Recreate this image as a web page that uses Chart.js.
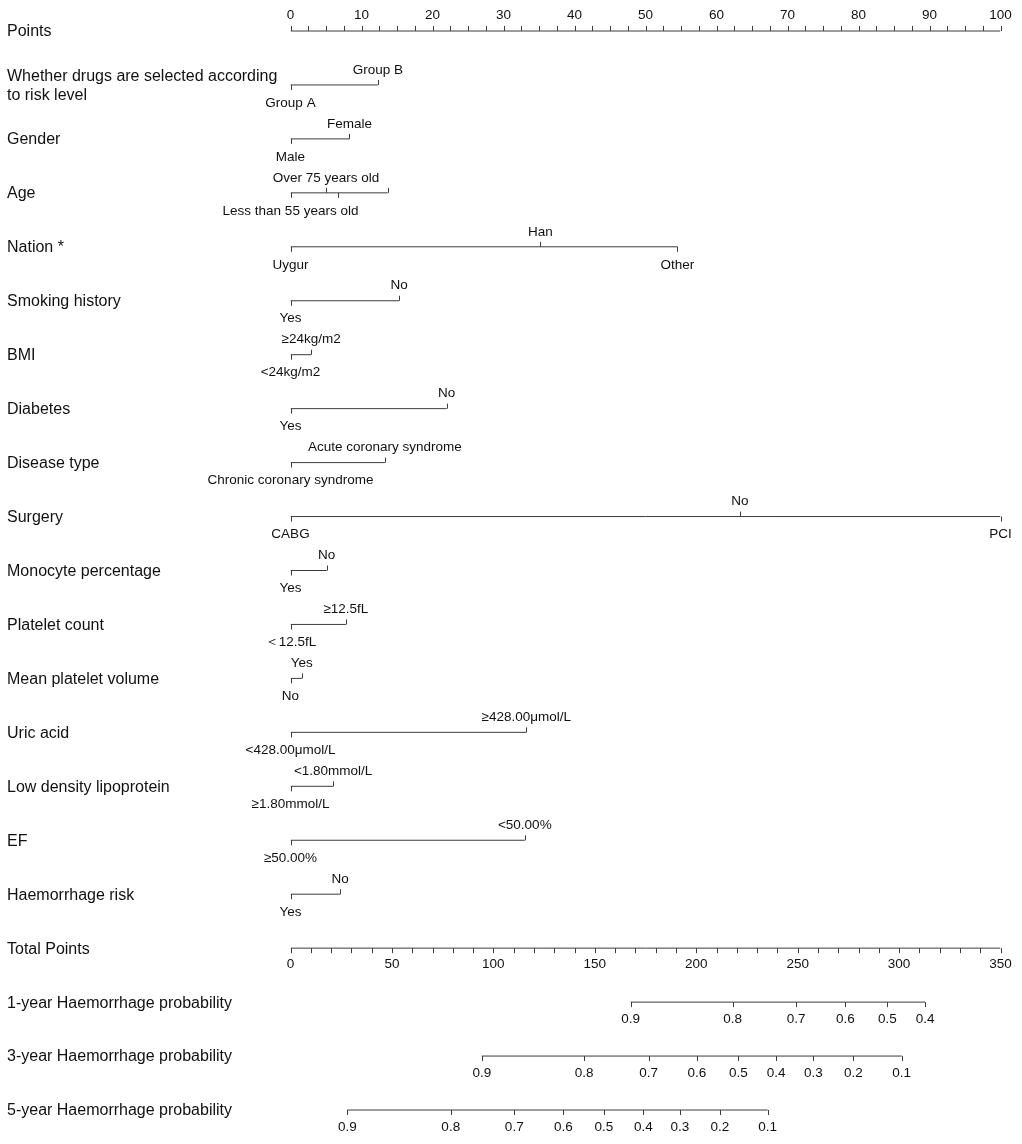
<!DOCTYPE html>
<html>
<head>
    <meta charset="utf-8">
    <script src="https://cdn.jsdelivr.net/npm/chart.js"></script>
    <style>
        body { margin: 0; background: #fff; }
        canvas { display: block; }
    </style>
</head>
<body>
    <canvas id="myChart" width="1022" height="1144"></canvas>
    <script>
        // 행 이름 (위에서 아래 순서)
        const rowNames = [
            'Points',
            'Whether drugs are selected according\nto risk level',
            'Gender', 'Age', 'Nation *', 'Smoking history', 'BMI', 'Diabetes',
            'Disease type', 'Surgery', 'Monocyte percentage', 'Platelet count',
            'Mean platelet volume', 'Uric acid', 'Low density lipoprotein', 'EF',
            'Haemorrhage risk', 'Total Points',
            '1-year Haemorrhage probability',
            '3-year Haemorrhage probability',
            '5-year Haemorrhage probability'
        ];

        // 변수별 수준과 점수
        const drugLevels = ['Group A', 'Group B'];
        const drugPts = [0, 12.3];
        const genderLevels = ['Male', 'Female'];
        const genderPts = [0, 8.3];
        const ageLevels = ['Less than 55 years old', 'Over 75 years old', '', ''];
        const agePts = [0, 5.0, 6.7, 13.7];
        const nationLevels = ['Uygur', 'Han', 'Other'];
        const nationPts = [0, 35.2, 54.5];
        const smokeLevels = ['Yes', 'No'];
        const smokePts = [0, 15.3];
        const bmiLevels = ['<24kg/m2', '≥24kg/m2'];
        const bmiPts = [0, 2.9];
        const diabLevels = ['Yes', 'No'];
        const diabPts = [0, 22.0];
        const diseaseLevels = ['Chronic coronary syndrome', 'Acute coronary syndrome'];
        const diseasePts = [0, 13.3];
        const surgeryLevels = ['CABG', 'No', 'PCI'];
        const surgeryPts = [0, 63.3, 100];
        const monoLevels = ['Yes', 'No'];
        const monoPts = [0, 5.1];
        const pltLevels = ['＜12.5fL', '≥12.5fL'];
        const pltPts = [0, 7.8];
        const mpvLevels = ['No', 'Yes'];
        const mpvPts = [0, 1.6];
        const uaLevels = ['<428.00μmol/L', '≥428.00μmol/L'];
        const uaPts = [0, 33.2];
        const ldlLevels = ['≥1.80mmol/L', '<1.80mmol/L'];
        const ldlPts = [0, 6.0];
        const efLevels = ['≥50.00%', '<50.00%'];
        const efPts = [0, 33.0];
        const haemLevels = ['Yes', 'No'];
        const haemPts = [0, 7.0];

        // 축 눈금
        const pointsMax = 100;
        const pointsMinorStep = 2.5;
        const pointsLabelStep = 10;
        const totalMax = 350;
        const totalMinorStep = 10;
        const totalLabelStep = 50;

        // 확률 축 (총점 기준 위치)
        const prob1Labels = ['0.9', '0.8', '0.7', '0.6', '0.5', '0.4'];
        const prob1Pts = [167.7, 218.0, 249.2, 273.5, 294.2, 312.8];
        const prob3Labels = ['0.9', '0.8', '0.7', '0.6', '0.5', '0.4', '0.3', '0.2', '0.1'];
        const prob3Pts = [94.3, 144.8, 176.6, 200.3, 220.8, 239.4, 257.7, 277.5, 301.3];
        const prob5Labels = ['0.9', '0.8', '0.7', '0.6', '0.5', '0.4', '0.3', '0.2', '0.1'];
        const prob5Pts = [28.0, 79.0, 110.3, 134.5, 154.5, 173.9, 192.0, 211.7, 235.2];

        const variables = [
            [drugLevels, drugPts], [genderLevels, genderPts], [ageLevels, agePts],
            [nationLevels, nationPts], [smokeLevels, smokePts], [bmiLevels, bmiPts],
            [diabLevels, diabPts], [diseaseLevels, diseasePts], [surgeryLevels, surgeryPts],
            [monoLevels, monoPts], [pltLevels, pltPts], [mpvLevels, mpvPts],
            [uaLevels, uaPts], [ldlLevels, ldlPts], [efLevels, efPts], [haemLevels, haemPts]
        ];
        const probAxes = [[prob1Labels, prob1Pts], [prob3Labels, prob3Pts], [prob5Labels, prob5Pts]];

        const lineColor = '#3c3c3c';
        const textColor = '#111';
        const FONT = '"Liberation Sans", Arial, sans-serif';

        // 선 데이터셋 만들기
        const datasets = [];
        const seg = (x0, x1, row, axis) => ({
            data: [{ x: x0, y: row }, { x: x1, y: row }],
            xAxisID: axis, showLine: true, pointRadius: 0,
            borderColor: lineColor, borderWidth: 1
        });
        datasets.push(seg(0, pointsMax, 0, 'x'));
        variables.forEach(([lv, pts], i) => {
            datasets.push(seg(Math.min(...pts), Math.max(...pts), i + 1, 'x'));
        });
        datasets.push(seg(0, totalMax, 17, 'xt'));
        probAxes.forEach(([lb, pts], i) => {
            datasets.push(seg(Math.min(...pts), Math.max(...pts), 18 + i, 'xt'));
        });

        // 눈금, 글자 그리기
        const nomoPlugin = {
            id: 'nomo',
            afterDatasetsDraw(chart) {
                const ctx = chart.ctx;
                const sx = chart.scales.x, st = chart.scales.xt, sy = chart.scales.y;
                ctx.save();
                ctx.strokeStyle = lineColor;
                ctx.lineWidth = 1;
                ctx.fillStyle = textColor;

                const tick = (px, py, len) => {
                    ctx.beginPath();
                    ctx.moveTo(Math.round(px) + 0.5, py);
                    ctx.lineTo(Math.round(px) + 0.5, py + len);
                    ctx.stroke();
                };

                // 왼쪽 행 이름
                ctx.font = '16px ' + FONT;
                ctx.textAlign = 'left';
                ctx.textBaseline = 'middle';
                rowNames.forEach((name, i) => {
                    const py = sy.getPixelForValue(i);
                    const lines = name.split('\n');
                    if (lines.length === 1) {
                        ctx.fillText(name, 7, py + 1);
                    } else {
                        ctx.fillText(lines[0], 7, py - 8.5);
                        ctx.fillText(lines[1], 7, py + 11);
                    }
                });

                ctx.font = '13.5px ' + FONT;
                ctx.textAlign = 'center';

                // Points 축
                let py = sy.getPixelForValue(0);
                for (let v = 0; v <= pointsMax + 1e-6; v += pointsMinorStep) {
                    tick(sx.getPixelForValue(v), py, -5);
                }
                for (let v = 0; v <= pointsMax; v += pointsLabelStep) {
                    ctx.fillText(String(v), sx.getPixelForValue(v), py - 16);
                }

                // 변수 행
                variables.forEach(([lv, pts], i) => {
                    const ry = sy.getPixelForValue(i + 1);
                    pts.forEach((p, j) => {
                        const px = sx.getPixelForValue(p);
                        const below = j % 2 === 0;
                        tick(px, ry, below ? 5 : -5);
                        if (lv[j]) ctx.fillText(lv[j], px, below ? ry + 18 : ry - 15);
                    });
                });

                // Total Points 축
                py = sy.getPixelForValue(17);
                for (let v = 0; v <= totalMax; v += totalMinorStep) {
                    tick(st.getPixelForValue(v), py, 5);
                }
                for (let v = 0; v <= totalMax; v += totalLabelStep) {
                    ctx.fillText(String(v), st.getPixelForValue(v), py + 16);
                }

                // 확률 축
                probAxes.forEach(([lb, pts], i) => {
                    const ry = sy.getPixelForValue(18 + i);
                    pts.forEach((p, j) => {
                        const px = st.getPixelForValue(p);
                        tick(px, ry, 5);
                        ctx.fillText(lb[j], px, ry + 17);
                    });
                });
                ctx.restore();
            }
        };

        // 행 간격: 0행 y=31px, 행당 53.95px
        const rowTop = 31, rowGap = 53.95, H = 1144;

        new Chart(document.getElementById('myChart'), {
            type: 'scatter',
            data: { datasets },
            options: {
                responsive: false,
                animation: false,
                layout: { padding: { left: 290.5, right: 21.5, top: 0, bottom: 0 } },
                plugins: { legend: { display: false }, tooltip: { enabled: false } },
                scales: {
                    x: { type: 'linear', display: false, min: 0, max: pointsMax },
                    xt: { type: 'linear', display: false, min: 0, max: totalMax },
                    y: {
                        type: 'linear', display: false, reverse: true,
                        min: -rowTop / rowGap, max: (H - rowTop) / rowGap
                    }
                }
            },
            plugins: [nomoPlugin]
        });
    </script>
</body>
</html>
